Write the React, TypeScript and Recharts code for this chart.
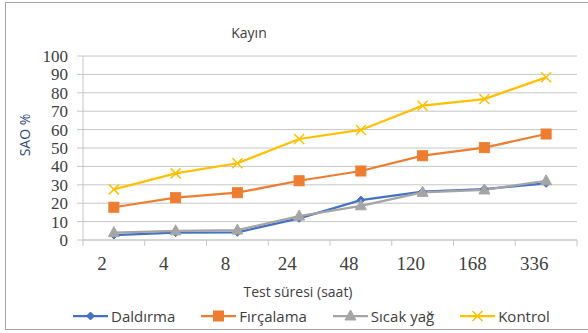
import { LineChart, Line, XAxis, YAxis, CartesianGrid, Legend } from 'recharts';

const hours = ['2', '4', '8', '24', '48', '120', '168', '336'];
const daldirma = [2.7, 4, 4.2, 11.8, 21.7, 26.3, 27.7, 30.8];
const fircalama = [17.8, 23, 25.7, 32.2, 37.5, 45.8, 50.2, 57.6];
const sicakYag = [4, 5, 5.4, 13, 18.6, 25.9, 27.2, 32.2];
const kontrol = [27.5, 36.2, 41.7, 54.9, 59.8, 73, 76.6, 88.4];
const yTicks = [0, 10, 20, 30, 40, 50, 60, 70, 80, 90, 100];

type Marker = 'diamond' | 'square' | 'triangle' | 'cross';

const series: { key: string; name: string; color: string; marker: Marker }[] = [
  { key: 'daldirma', name: 'Daldırma', color: '#4472C4', marker: 'diamond' },
  { key: 'fircalama', name: 'Fırçalama', color: '#ED7D31', marker: 'square' },
  { key: 'sicakYag', name: 'Sıcak yağ', color: '#A5A5A5', marker: 'triangle' },
  { key: 'kontrol', name: 'Kontrol', color: '#FFC000', marker: 'cross' },
];

const data = hours.map((hour, i) => ({
  hour,
  daldirma: daldirma[i],
  fircalama: fircalama[i],
  sicakYag: sicakYag[i],
  kontrol: kontrol[i],
}));

const GRID = '#c6c6c6';
const TEXT = '#404040';
const SANS = '"Open Sans", sans-serif';

function MarkerShape({ kind, color, cx, cy }: { kind: Marker; color: string; cx: number; cy: number }) {
  switch (kind) {
    case 'diamond':
      return <path d={`M${cx},${cy - 4}L${cx + 4},${cy}L${cx},${cy + 4}L${cx - 4},${cy}Z`} fill={color} stroke={color} />;
    case 'square':
      return <rect x={cx - 5} y={cy - 5} width={10} height={10} fill={color} stroke={color} />;
    case 'triangle':
      return <path d={`M${cx},${cy - 6}L${cx + 5.5},${cy + 4}L${cx - 5.5},${cy + 4}Z`} fill={color} stroke={color} />;
    default:
      return (
        <path
          d={`M${cx - 5},${cy - 5}L${cx + 5},${cy + 5}M${cx + 5},${cy - 5}L${cx - 5},${cy + 5}`}
          stroke={color}
          strokeWidth={1.5}
          fill="none"
        />
      );
  }
}

const makeDot = (kind: Marker, color: string) => (props: any) => {
  const { cx, cy, index } = props;
  if (cx == null || cy == null) return <g key={index} />;
  return (
    <g key={index}>
      <MarkerShape kind={kind} color={color} cx={cx} cy={cy} />
    </g>
  );
};

// hour label plus the small tick marks that sit between the bands
function HourTick(props: any) {
  const x = Number(props.x);
  const y = Number(props.y);
  const count = Number(props.visibleTicksCount) || hours.length;
  const band = Number(props.width) / count;
  const marks = [x - band / 2];
  if (props.index === count - 1) marks.push(x + band / 2);
  return (
    <g>
      {marks.map(mx => (
        <path key={mx} d={`M${mx},${y}v6`} stroke={GRID} fill="none" />
      ))}
      <text x={x - 12} y={y + 30} textAnchor="middle" fill={TEXT} fontSize={19} fontFamily='"Liberation Serif", serif'>
        {props.payload.value}
      </text>
    </g>
  );
}

function ChartLegend() {
  return (
    <div style={{ display: 'flex', alignItems: 'center', paddingLeft: 73, gap: 26, height: 30 }}>
      {series.map(s => (
        <div key={s.key} style={{ display: 'flex', alignItems: 'center', gap: 3 }}>
          <svg width={35} height={12}>
            <line x1={0} y1={6} x2={35} y2={6} stroke={s.color} strokeWidth={2.25} />
            <MarkerShape kind={s.marker} color={s.color} cx={17.5} cy={6} />
          </svg>
          <span style={{ fontFamily: SANS, fontSize: 15, color: TEXT }}>{s.name}</span>
        </div>
      ))}
    </div>
  );
}

export default function App() {
  return (
    <div style={{ position: 'absolute', left: 0, top: 0, width: 588, height: 333, overflow: 'hidden', background: '#fff' }}>
      <div
        style={{
          position: 'absolute',
          left: 5,
          top: 2,
          width: 620,
          height: 328,
          border: '1.5px solid #a6a6a6',
          boxSizing: 'border-box',
        }}
      />
      <div style={{ position: 'absolute', left: 0, top: 23, width: 498, textAlign: 'center', fontFamily: SANS, fontSize: 14, color: TEXT }}>
        Kayın
      </div>
      <div style={{ position: 'absolute', left: 0, top: 0 }}>
        <LineChart width={588} height={333} data={data} margin={{ top: 56, right: 11, left: 0, bottom: 0 }}>
          <CartesianGrid vertical={false} stroke={GRID} />
          <XAxis
            dataKey="hour"
            scale="band"
            height={61}
            stroke={GRID}
            tickLine={false}
            tickSize={0}
            tickMargin={0}
            tick={<HourTick />}
            interval={0}
          />
          <YAxis
            width={83}
            domain={[0, 100]}
            ticks={yTicks}
            interval={0}
            stroke={GRID}
            tickSize={6}
            tickMargin={9}
            tick={{ fill: TEXT, fontSize: 17, fontFamily: '"Liberation Serif", serif' }}
          />
          <Legend verticalAlign="bottom" height={32} wrapperStyle={{ left: 0, width: 588 }} content={() => <ChartLegend />} />
          {series.map(s => (
            <Line
              key={s.key}
              type="linear"
              dataKey={s.key}
              name={s.name}
              stroke={s.color}
              strokeWidth={2.25}
              dot={makeDot(s.marker, s.color)}
              activeDot={false}
              isAnimationActive={false}
            />
          ))}
        </LineChart>
      </div>
      {/* axis titles */}
      <div style={{ position: 'absolute', left: 198, top: 282, width: 200, textAlign: 'center', fontFamily: SANS, fontSize: 14, color: TEXT }}>
        Test süresi (saat)
      </div>
      <div
        style={{
          position: 'absolute',
          left: 24,
          top: 135,
          transform: 'translate(-50%, -50%) rotate(-90deg)',
          fontFamily: SANS,
          fontSize: 14,
          color: '#2f4a7a',
          whiteSpace: 'nowrap',
        }}
      >
        SAO %
      </div>
    </div>
  );
}
